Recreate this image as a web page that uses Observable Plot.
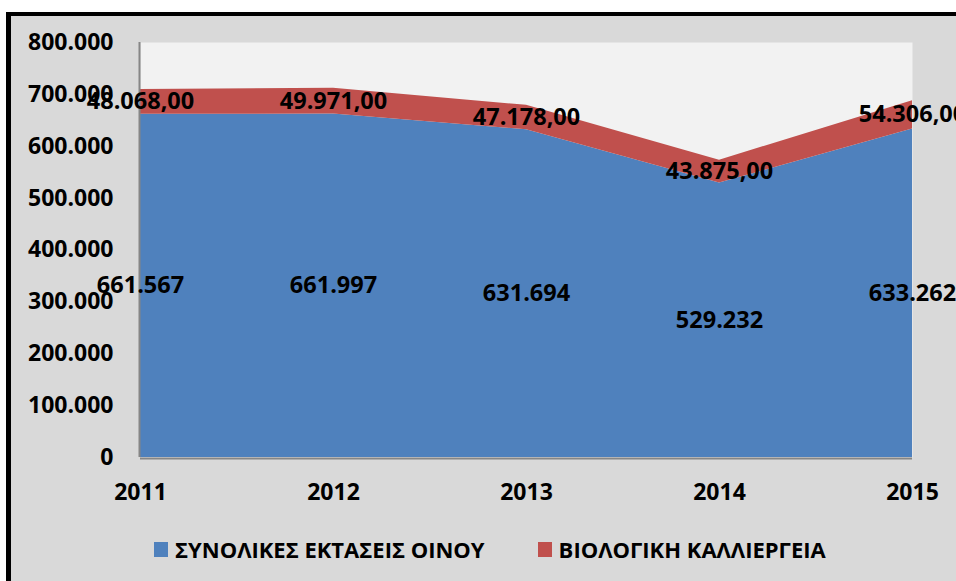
<!DOCTYPE html>
<html>
<head>
<meta charset="utf-8">
<script src="https://cdn.jsdelivr.net/npm/d3@7"></script>
<script src="https://cdn.jsdelivr.net/npm/@observablehq/plot@0.6"></script>
<style>
  html, body { margin: 0; padding: 0; background: #ffffff; width: 956px; height: 581px; overflow: hidden; }
  #frame { position: absolute; left: 6px; top: 12px; width: 1000px; height: 620px; background: #d9d9d9;
           border-left: 5px solid #000; border-top: 4px solid #000; }
  #chart { position: absolute; left: 0; top: 0; }
  #legend { position: absolute; left: 154px; top: 534px; display: flex; align-items: center;
            font-family: "Open Sans", sans-serif; font-weight: bold; font-size: 22px; color: #000; white-space: nowrap; }
  .item { display: flex; align-items: center; }
  .sw { width: 14px; height: 15px; margin-right: 7px; }
</style>
</head>
<body>
<div id="frame"></div>
<div id="chart"></div>
<div id="legend"></div>
<script>
const years = [2011, 2012, 2013, 2014, 2015];
const totalVineyard = [661567, 661997, 631694, 529232, 633262];
const organicFarming = [48068, 49971, 47178, 43875, 54306];
const seriesNames = ["ΣΥΝΟΛΙΚΕΣ ΕΚΤΑΣΕΙΣ ΟΙΝΟΥ", "ΒΙΟΛΟΓΙΚΗ ΚΑΛΛΙΕΡΓΕΙΑ"];
const seriesColors = ["#4f81bd", "#c0504d"];
const yTicks = [0, 100000, 200000, 300000, 400000, 500000, 600000, 700000, 800000];

const loc = d3.formatLocale({decimal: ",", thousands: ".", grouping: [3], currency: ["", "€"]});
const fmtInt = loc.format(",.0f");
const fmtDec = loc.format(",.2f");

const data = years.flatMap((yr, i) => [
  {year: yr, series: seriesNames[0], value: totalVineyard[i], label: fmtInt(totalVineyard[i])},
  {year: yr, series: seriesNames[1], value: organicFarming[i], label: fmtDec(organicFarming[i])}
]);

const chart = Plot.plot({
  width: 956,
  height: 520,
  marginLeft: 140,
  marginRight: 44,
  marginTop: 42,
  marginBottom: 63,
  style: {background: "transparent", fontFamily: "Open Sans, sans-serif", fontWeight: "bold", fontSize: "23px", color: "#000", overflow: "visible"},
  x: {domain: [2011, 2015], ticks: years, tickFormat: "d", tickSize: 0, tickPadding: 26, label: null},
  y: {domain: [0, 800000], ticks: yTicks, tickFormat: d => fmtInt(d), tickSize: 0, tickPadding: 27, label: null},
  color: {domain: seriesNames, range: seriesColors},
  marks: [
    Plot.frame({fill: "#f2f2f2", stroke: null}),
    Plot.areaY(data, {x: "year", y: "value", fill: "series", z: "series"}),
    Plot.ruleX([2011], {stroke: "#868686", strokeWidth: 2, dx: -1}),
    Plot.ruleY([0], {stroke: "#868686", strokeWidth: 2, dy: 1}),
    Plot.text(data, Plot.stackY({x: "year", y: "value", z: "series", text: "label", fill: "#000", fontSize: 23.5, fontWeight: "bold"}))
  ]
});
document.getElementById("chart").appendChild(chart);

const legend = document.getElementById("legend");
seriesNames.forEach((name, i) => {
  const item = document.createElement("div");
  item.className = "item";
  if (i > 0) item.style.marginLeft = "53px";
  const sw = document.createElement("div");
  sw.className = "sw";
  sw.style.background = seriesColors[i];
  const t = document.createElement("span");
  t.textContent = name;
  item.appendChild(sw);
  item.appendChild(t);
  legend.appendChild(item);
});
</script>
</body>
</html>
